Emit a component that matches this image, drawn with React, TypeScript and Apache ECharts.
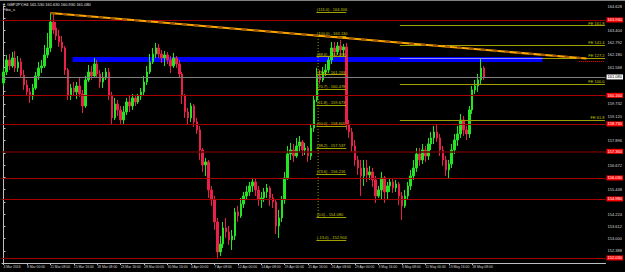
import React, { useEffect, useRef } from "react";
import * as echarts from "echarts";

// X-axis tick labels (one every 8 bars)
const tickLabels = [
  "4 Mar 2016", "8 Mar 00:00", "11 Mar 08:00", "15 Mar 16:00", "18 Mar 08:00",
  "23 Mar 16:00", "28 Mar 00:00", "30 Mar 16:00", "4 Apr 00:00", "7 Apr 08:00",
  "12 Apr 00:00", "14 Apr 08:00", "19 Apr 00:00", "21 Apr 16:00", "26 Apr 08:00",
  "29 Apr 00:00", "3 May 16:00", "6 May 08:00", "11 May 00:00", "13 May 16:00",
  "18 May 08:00",
];
const TICK_STEP = 8;
const TOTAL_SLOTS = 206; // bars + right-side chart shift

// OHLC bars: [open, close, low, high]
const candles: number[][] = [
  [160.78, 161.33, 160.63, 161.53], [161.33, 161.93, 161.18, 162.18], [161.93, 161.63, 161.43, 162.23],
  [161.63, 162.03, 161.53, 162.33], [162.03, 161.53, 161.33, 162.38], [161.53, 161.83, 161.33, 162.13],
  [161.83, 161.18, 161.03, 162.03], [161.18, 160.68, 160.43, 161.43], [160.68, 160.33, 160.13, 160.93],
  [160.33, 160.13, 159.78, 160.53], [160.13, 160.53, 159.93, 160.73], [160.53, 161.13, 160.43, 161.33],
  [161.13, 161.53, 160.93, 161.83], [161.53, 161.63, 161.28, 161.93], [161.63, 162.18, 161.53, 162.68],
  [162.18, 162.53, 162.03, 163.28], [162.53, 163.83, 162.33, 164.28], [163.83, 163.43, 163.23, 164.23],
  [163.53, 163.13, 162.93, 163.83], [163.13, 162.83, 162.58, 163.43], [162.83, 162.53, 162.33, 163.13],
  [162.53, 161.43, 161.18, 162.63], [161.43, 160.18, 159.93, 161.53], [160.18, 160.53, 159.93, 160.73],
  [160.53, 160.33, 160.13, 160.83], [160.33, 160.63, 159.98, 160.83], [160.63, 160.23, 160.08, 161.03],
  [160.23, 159.63, 159.28, 160.43], [159.63, 160.93, 159.53, 161.13], [160.93, 161.33, 160.83, 161.68],
  [161.33, 161.13, 160.93, 161.63], [161.13, 161.73, 161.03, 162.03], [161.73, 161.23, 161.03, 161.93],
  [161.23, 160.83, 160.53, 161.43], [160.83, 161.03, 160.53, 161.33], [161.03, 161.33, 160.93, 161.53],
  [161.33, 160.18, 159.93, 161.53], [160.18, 159.03, 158.73, 160.33], [159.03, 159.73, 158.93, 160.03],
  [159.73, 159.43, 159.13, 159.93], [159.43, 158.93, 158.73, 159.63], [158.93, 159.33, 158.73, 159.63],
  [159.33, 159.83, 159.18, 160.03], [159.83, 159.63, 159.33, 160.13], [159.63, 160.03, 159.43, 160.23],
  [160.03, 159.83, 159.63, 160.18], [159.83, 160.13, 159.73, 160.23], [160.13, 160.33, 159.93, 160.53],
  [160.33, 160.83, 160.18, 161.13], [160.83, 161.33, 160.68, 161.63], [161.33, 161.83, 161.23, 162.23],
  [161.83, 162.23, 161.73, 162.53], [162.23, 162.53, 162.03, 162.78], [162.53, 162.23, 162.03, 162.73],
  [162.23, 162.03, 161.78, 162.43], [162.03, 162.18, 161.63, 162.38], [162.18, 161.93, 161.73, 162.33],
  [161.93, 161.63, 161.28, 162.13], [161.63, 162.03, 161.53, 162.28], [162.03, 161.73, 161.53, 162.13],
  [161.73, 161.23, 161.03, 161.93], [161.23, 160.13, 159.73, 161.33], [160.13, 159.33, 159.03, 160.23],
  [159.33, 159.03, 158.73, 159.53], [159.03, 159.63, 158.83, 159.78], [159.63, 158.83, 158.58, 159.73],
  [158.83, 158.43, 158.23, 159.03], [158.43, 157.43, 156.93, 158.63], [157.43, 156.68, 156.33, 157.53],
  [156.68, 156.83, 156.13, 157.03], [156.83, 155.43, 155.03, 156.93], [155.43, 154.93, 154.63, 155.63],
  [154.93, 153.83, 153.43, 155.13], [153.83, 152.33, 152.03, 154.03], [152.33, 152.73, 152.13, 153.13],
  [152.73, 153.53, 152.53, 153.83], [153.53, 153.33, 153.03, 154.03], [153.33, 152.93, 152.68, 153.63],
  [152.93, 153.13, 152.43, 153.43], [153.13, 154.33, 152.93, 154.53], [154.33, 154.13, 153.83, 154.63],
  [154.13, 154.73, 154.03, 155.03], [154.73, 155.13, 154.53, 155.33], [155.13, 155.33, 154.93, 155.63],
  [155.33, 155.63, 155.13, 155.83], [155.63, 155.83, 155.33, 156.03], [155.83, 155.43, 155.13, 156.03],
  [155.43, 154.93, 154.63, 155.63], [154.93, 155.03, 154.53, 155.33], [155.03, 155.33, 154.83, 155.53],
  [155.33, 155.53, 155.03, 155.73], [155.53, 155.03, 154.63, 155.63], [155.03, 154.83, 154.53, 155.23],
  [154.83, 153.63, 153.23, 154.93], [153.63, 154.03, 153.03, 154.43], [154.03, 154.93, 153.83, 155.13],
  [154.93, 156.03, 154.73, 156.33], [156.03, 157.23, 155.93, 157.63], [157.23, 157.43, 156.93, 157.78],
  [157.43, 157.13, 156.83, 157.73], [157.13, 157.63, 157.03, 158.03], [157.63, 157.83, 157.33, 158.13],
  [157.83, 157.43, 157.13, 157.93], [157.43, 157.53, 157.18, 157.78], [157.53, 157.13, 156.83, 157.63],
  [157.13, 158.53, 156.93, 158.73], [158.53, 159.93, 158.33, 160.13], [159.93, 161.13, 159.83, 161.53],
  [161.13, 160.93, 160.73, 161.43], [160.93, 161.33, 160.83, 161.58], [161.33, 161.43, 161.13, 161.73],
  [161.43, 161.93, 161.28, 162.13], [161.93, 162.53, 161.73, 162.83], [162.53, 162.33, 162.08, 162.83],
  [162.33, 162.63, 162.18, 162.83], [162.63, 162.43, 162.13, 162.93], [162.43, 162.58, 162.08, 162.73],
  [162.58, 158.68, 158.43, 162.78], [158.68, 158.33, 158.03, 158.93], [158.33, 157.63, 157.33, 158.53],
  [157.63, 156.93, 156.63, 157.93], [156.93, 156.53, 156.18, 157.13], [156.53, 156.13, 155.13, 156.93],
  [156.13, 156.53, 155.63, 156.93], [156.53, 156.18, 155.83, 156.93], [156.18, 156.33, 155.93, 156.63],
  [156.33, 155.93, 155.58, 156.53], [155.93, 155.13, 154.78, 156.13], [155.13, 155.43, 155.03, 155.63],
  [155.43, 156.03, 154.93, 156.33], [156.03, 155.33, 154.78, 156.13], [155.33, 155.63, 154.93, 155.83],
  [155.63, 155.83, 155.33, 156.03], [155.83, 155.53, 155.28, 156.03], [155.53, 155.73, 155.33, 155.93],
  [155.73, 155.13, 154.68, 155.83], [155.13, 154.63, 153.93, 155.33], [154.63, 155.13, 154.53, 155.43],
  [155.13, 155.63, 154.93, 155.83], [155.63, 156.13, 155.43, 156.43], [156.13, 156.53, 155.93, 156.93],
  [156.53, 157.23, 156.33, 157.53], [157.23, 156.93, 156.63, 157.53], [156.93, 157.43, 156.73, 157.73],
  [157.43, 157.13, 156.83, 157.63], [157.13, 157.73, 156.93, 158.03], [157.73, 158.03, 157.43, 158.33],
  [158.03, 158.33, 157.73, 158.63], [158.33, 158.03, 157.83, 158.73], [158.03, 157.43, 157.13, 158.23],
  [157.43, 156.93, 156.63, 157.63], [156.93, 156.43, 156.13, 157.13], [156.43, 156.73, 156.03, 156.93],
  [156.73, 157.43, 156.53, 157.73], [157.43, 157.93, 157.23, 158.23], [157.93, 158.23, 157.63, 158.63],
  [158.23, 158.93, 158.03, 159.23], [158.93, 158.43, 158.13, 159.13], [158.43, 158.23, 157.93, 158.63],
  [158.23, 159.43, 158.03, 159.63], [159.43, 160.43, 159.23, 160.63], [160.43, 160.63, 160.23, 160.93],
  [160.63, 160.93, 160.33, 161.23], [160.93, 161.53, 160.73, 162.03], [161.53, 161.08, 160.93, 161.63],
];

// Horizontal support / resistance lines
const redLevels = [163.93, 160.16, 158.73, 156.03, 154.98, 152.03];
const darkRedLevels = [157.36];

// Trend line (bar index, price)
const trendStart = [16, 164.28];
const trendEnd = [199, 162.0];

// Blue zone
const zoneBars = [23.6, 184];
const zonePrices = [162.08, 161.83];

// Fibonacci retracement
const fibLevels = [113.0, 100.0, 88.6, 78.6, 70.7, 61.8, 50.0, 38.2, 23.6, 0.0, -13.0];
const fibHigh = 163.13;
const fibLow = 154.08;
const fibBars = [106.8, 117];

// Fibonacci expansion
const feLevels = [161.8, 141.4, 127.2, 100.0, 61.8];
const fe0 = 156.02;
const fe100 = 160.73;
const feBars = [135.3, 205.3];

// Marker near trendline end
const askBars = [196.4, 205];
const askPrice = 161.88;

const BULL = "#22e622";
const BEAR = "#e8204a";
const OLIVE = "#a0a000";
const FONT = "'Liberation Sans', Arial, sans-serif";

export default function App() {
  const ref = useRef<HTMLDivElement>(null);

  useEffect(() => {
    if (!ref.current) return;
    const chart = echarts.init(ref.current, null, { renderer: "svg" });
    const cats = Array.from({ length: TOTAL_SLOTS }, (_, i) => String(i));
    const last = candles[candles.length - 1];
    const lastClose = last[1];
    const showTick = (i: number) => i % TICK_STEP === 0 && i / TICK_STEP < tickLabels.length;
    const boxedLevels = [...redLevels, ...darkRedLevels, lastClose];

    const hLine = (v: number, color: string, width: number) => ({
      yAxis: v,
      lineStyle: { color, width, type: "solid" },
      label: {
        show: true,
        position: "end",
        distance: 1,
        formatter: v.toFixed(3),
        backgroundColor: "#ff0000",
        color: "#ffffff",
        fontSize: 4,
        fontFamily: FONT,
        padding: [1, 1, 0, 1],
      },
    });

    const fibLines = fibLevels.map((l) => {
      const p = fibLow + ((fibHigh - fibLow) * l) / 100;
      return [
        {
          coord: [fibBars[0], p],
          lineStyle: { color: OLIVE, width: 1, type: "solid" },
          label: {
            show: true,
            position: "insideStartTop",
            distance: 0.5,
            formatter: `(${l.toFixed(1)}) - ${p.toFixed(3)}`,
            color: "#c8c800",
            fontSize: 4,
            fontFamily: FONT,
          },
        },
        { coord: [fibBars[1], p] },
      ];
    });

    const feLines = feLevels.map((l) => {
      const p = fe0 + ((fe100 - fe0) * l) / 100;
      return [
        {
          coord: [feBars[0], p],
          lineStyle: { color: OLIVE, width: 1, type: "solid" },
          label: {
            show: true,
            position: "insideEndTop",
            distance: 0.5,
            formatter: `FE ${l.toFixed(1)}`,
            color: "#c8c800",
            fontSize: 4,
            fontFamily: FONT,
          },
        },
        { coord: [feBars[1], p] },
      ];
    });
    const fe127 = fe0 + ((fe100 - fe0) * 127.2) / 100;

    const option: any = {
      animation: false,
      backgroundColor: "#000000",
      textStyle: { fontFamily: FONT },
      grid: { left: 2, right: 16, top: 6, bottom: 9, containLabel: false },
      xAxis: [
        {
          type: "category",
          data: cats,
          boundaryGap: true,
          axisLine: { show: true, lineStyle: { color: "#c0c0c0", width: 1 } },
          axisTick: { show: true, alignWithLabel: true, interval: showTick, length: 2, lineStyle: { color: "#c0c0c0" } },
          axisLabel: {
            show: true,
            interval: showTick,
            formatter: (_v: string, i: number) => tickLabels[i / TICK_STEP] ?? "",
            color: "#d8d8d8",
            fontSize: 3.4,
            fontFamily: FONT,
            align: "left",
            margin: 2,
          },
          splitLine: { show: false },
        },
        { type: "value", min: -0.5, max: TOTAL_SLOTS - 0.5, show: false },
      ],
      yAxis: {
        type: "value",
        position: "right",
        min: 151.776,
        max: 164.628,
        interval: 0.612,
        axisLine: { show: true, lineStyle: { color: "#c0c0c0", width: 1 } },
        axisTick: { show: true, length: 2, lineStyle: { color: "#c0c0c0" } },
        axisLabel: {
          color: "#d8d8d8",
          fontSize: 4,
          fontFamily: FONT,
          margin: 2,
          formatter: (v: number) => (boxedLevels.some((b) => Math.abs(b - v) < 0.3) ? "" : v.toFixed(3)),
        },
        splitLine: { show: false },
      },
      series: [
        {
          name: "zone",
          type: "line",
          xAxisIndex: 1,
          data: [[zoneBars[0], zonePrices[0]]],
          symbol: "none",
          showSymbol: false,
          lineStyle: { width: 0 },
          z: 1,
          markArea: {
            silent: true,
            itemStyle: { color: "#0000ff", opacity: 1 },
            data: [[{ coord: [zoneBars[0], zonePrices[0]] }, { coord: [zoneBars[1], zonePrices[1]] }]],
          },
        },
        {
          name: "GBPJPY",
          type: "candlestick",
          xAxisIndex: 0,
          data: candles,
          barWidth: 2,
          z: 3,
          itemStyle: { color: BULL, color0: BEAR, borderColor: BULL, borderColor0: BEAR, borderWidth: 1 },
          markLine: {
            silent: true,
            symbol: ["none", "none"],
            data: [
              ...redLevels.map((v) => hLine(v, "#a80000", 1)),
              ...darkRedLevels.map((v) => hLine(v, "#640000", 1.5)),
              {
                yAxis: lastClose,
                lineStyle: { color: "#808080", width: 1, type: "solid" },
                label: {
                  show: true,
                  position: "end",
                  distance: 1,
                  formatter: lastClose.toFixed(3),
                  backgroundColor: "#ffffff",
                  color: "#000000",
                  fontSize: 4,
                  fontFamily: FONT,
                  padding: [1, 1, 0, 1],
                },
              },
            ],
          },
        },
        {
          name: "trend",
          type: "line",
          xAxisIndex: 1,
          data: [trendStart, trendEnd],
          symbol: "none",
          lineStyle: { color: "#ffa500", width: 2 },
          z: 5,
        },
        {
          name: "trendDash",
          type: "line",
          xAxisIndex: 1,
          data: [trendStart, trendEnd],
          symbol: "none",
          lineStyle: { color: "#9a5a00", width: 2, type: [5, 7] },
          z: 6,
        },
        {
          name: "fibStem",
          type: "line",
          xAxisIndex: 1,
          data: [[fibBars[0] + 0.6, fibLow], [fibBars[0] + 0.6, fibHigh]],
          symbol: "none",
          lineStyle: { color: OLIVE, width: 1, type: [1, 2] },
          z: 6,
        },
        {
          name: "fibs",
          type: "line",
          xAxisIndex: 1,
          data: [[fibBars[0], fibLow]],
          symbol: "none",
          showSymbol: false,
          lineStyle: { width: 0 },
          z: 7,
          markLine: {
            silent: true,
            symbol: ["none", "none"],
            data: [
              ...fibLines,
              ...feLines,
              [
                { coord: [feBars[0], fe127], lineStyle: { color: "#8c8cff", width: 1, type: "solid" }, label: { show: false } },
                { coord: [zoneBars[1], fe127] },
              ],
              [
                { coord: [askBars[0], askPrice], lineStyle: { color: "#ff0000", width: 1, type: [1, 1] }, label: { show: false } },
                { coord: [askBars[1], askPrice] },
              ],
            ],
          },
        },
      ],
      graphic: [
        { type: "rect", left: 0, top: 0, shape: { width: 625, height: 1 }, style: { fill: "#808080" }, silent: true },
        {
          type: "text",
          left: 2,
          top: 2,
          style: {
            text: `▼ GBPJPY,H4 ${last[0].toFixed(3)} ${last[3].toFixed(3)} ${last[2].toFixed(3)} ${last[1].toFixed(3)}`,
            fill: "#e0e0e0",
            fontSize: 4,
            fontFamily: FONT,
          },
        },
        {
          type: "text",
          left: 3,
          top: 7,
          style: { text: "Fibo_s", fill: "#e0e0e0", fontSize: 4, fontFamily: FONT },
        },
      ],
    };

    chart.setOption(option);
    return () => chart.dispose();
  }, []);

  return (
    <div
      ref={ref}
      style={{ position: "fixed", left: 0, top: 0, width: 625, height: 272, background: "#000000" }}
    />
  );
}
